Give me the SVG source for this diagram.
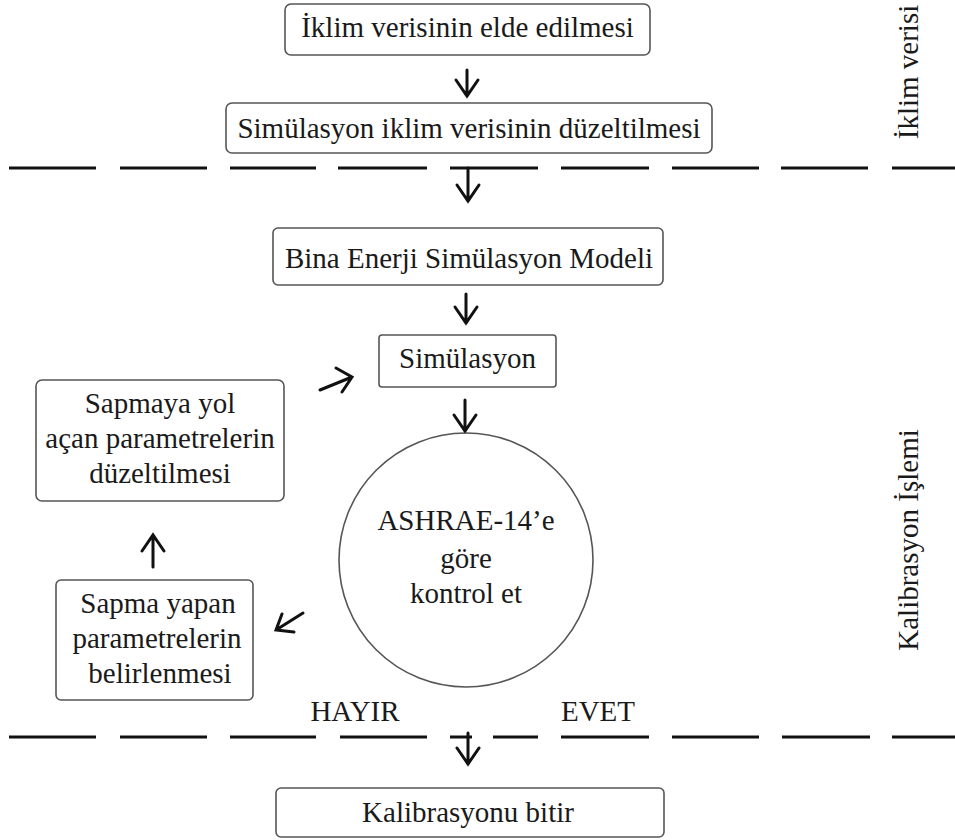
<svg xmlns="http://www.w3.org/2000/svg" width="955" height="840" viewBox="0 0 955 840" font-family="'Liberation Serif', 'Times New Roman', Times, serif">
<style>
.box{fill:#fff;stroke:#555;stroke-width:1.6}
.t{font-family:'Liberation Serif','Times New Roman',Times,serif;font-size:29px;fill:#1a1a1a;text-anchor:middle}
.sep{stroke:#111;stroke-width:3;fill:none}
.arr{stroke:#111;stroke-width:3;fill:none;stroke-linecap:round;stroke-linejoin:miter}
</style>
<rect width="955" height="840" fill="#fff"/>
<g id="separators">
<path class="sep" d="M9 168H96M120 168H207M230 168H316M338 168H427M450 168H538M561 168H649M672 168H759M781 168H868M892 168H955"/>
<path class="sep" d="M9 737H96M120 737H207M230 737H316M340 737H427M450 737H472M493 737H538M561 737H649M672 737H759M782 737H870M892 737H955"/>
</g>
<g id="section-labels">
<text class="t" transform="translate(918,72) rotate(-90)">İklim verisi</text>
<text class="t" transform="translate(918,540) rotate(-90)">Kalibrasyon İşlemi</text>
</g>
<g id="n1"><rect class="box" x="285" y="4" width="365" height="51" rx="6"/><text class="t" x="467.5" y="37">İklim verisinin elde edilmesi</text></g>
<g id="n2"><rect class="box" x="226" y="103" width="486" height="50" rx="6"/><text class="t" x="469" y="138">Simülasyon iklim verisinin düzeltilmesi</text></g>
<g id="n3"><rect class="box" x="273" y="228" width="390" height="57" rx="5"/><text class="t" x="469" y="268">Bina Enerji Simülasyon Modeli</text></g>
<g id="n4"><rect class="box" x="379" y="335" width="177" height="52" rx="3"/><text class="t" x="467.5" y="368">Simülasyon</text></g>
<g id="n5"><circle cx="466" cy="560" r="127" fill="#fff" stroke="#555" stroke-width="1.6"/>
<text class="t" x="466" y="530">ASHRAE-14’e</text>
<text class="t" x="466" y="568">göre</text>
<text class="t" x="466" y="603">kontrol et</text></g>
<g id="n6"><rect class="box" x="36" y="380" width="248" height="121" rx="6"/>
<text class="t" x="160" y="413">Sapmaya yol</text>
<text class="t" x="160" y="448">açan parametrelerin</text>
<text class="t" x="160" y="483">düzeltilmesi</text></g>
<g id="n7"><rect class="box" x="56" y="580" width="197" height="120" rx="5"/>
<text class="t" x="158" y="613">Sapma yapan</text>
<text class="t" x="157" y="648">parametrelerin</text>
<text class="t" x="160" y="683">belirlenmesi</text></g>
<g id="n8"><rect class="box" x="276" y="788" width="388" height="49" rx="5"/><text class="t" x="468" y="822">Kalibrasyonu bitir</text></g>
<g id="labels">
<text class="t" x="355" y="721">HAYIR</text>
<text class="t" x="598" y="721">EVET</text>
</g>
<g id="connectors">
<path class="arr" d="M467 70V96M456 80L467 96L478 80"/>
<path class="arr" d="M468 168V201M457 185L468 201L479 185"/>
<path class="arr" d="M466 294V323M455 307L466 323L477 307"/>
<path class="arr" d="M465 400V431M454 415L465 431L476 415"/>
<path class="arr" d="M468 733V764M457 748L468 764L479 748"/>
<path class="arr" d="M320 390L352 377M336 368L352 377L342 392"/>
<path class="arr" d="M153 567V535M142 551L153 535L164 551"/>
<path class="arr" d="M303 613L276 630M282 614L276 630L294 632"/>
</g>
</svg>
